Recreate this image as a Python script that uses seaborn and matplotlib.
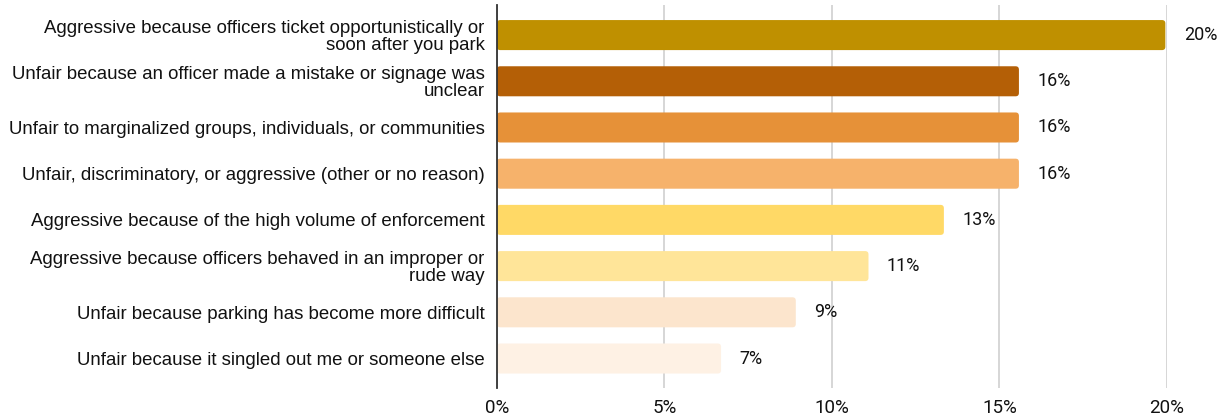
import matplotlib
matplotlib.use("Agg")
import matplotlib.pyplot as plt
from matplotlib.patches import FancyBboxPatch
from matplotlib.ticker import FuncFormatter, MultipleLocator
import seaborn as sns
import pandas as pd

categories = [
    "Aggressive because officers ticket opportunistically or\nsoon after you park",
    "Unfair because an officer made a mistake or signage was\nunclear",
    "Unfair to marginalized groups, individuals, or communities",
    "Unfair, discriminatory, or aggressive (other or no reason)",
    "Aggressive because of the high volume of enforcement",
    "Aggressive because officers behaved in an improper or\nrude way",
    "Unfair because parking has become more difficult",
    "Unfair because it singled out me or someone else",
]
shares = [19.95, 15.58, 15.58, 15.58, 13.34, 11.09, 8.92, 6.69]
bar_colors = ["#BF9000", "#B45F06", "#E69138", "#F6B26B",
              "#FFD966", "#FFE599", "#FCE5CD", "#FEF1E4"]

df = pd.DataFrame({"reason": categories, "share": shares})

sns.set_theme(style="white")
plt.rcParams["font.family"] = ["Liberation Sans", "DejaVu Sans"]

fig = plt.figure(figsize=(12.3, 4.2), dpi=100)
ax = fig.add_axes([0.404, 0.076, 0.5448, 0.912])

sns.barplot(data=df, x="share", y="reason", hue="reason", order=categories,
            hue_order=categories, palette=bar_colors, legend=False,
            orient="h", width=0.65, saturation=1, ax=ax, zorder=3)

ax.set_xlim(0, 20)
ax.set_ylim(7.64, -0.65)

# swap the square bars for slightly rounded ones
for p in list(ax.patches):
    x, y = p.get_x(), p.get_y()
    w, h = p.get_width(), p.get_height()
    fc = p.get_facecolor()
    p.remove()
    ax.add_patch(FancyBboxPatch((x, y), w, h,
                                boxstyle="round,pad=0,rounding_size=0.1",
                                mutation_aspect=0.72, facecolor=fc,
                                edgecolor="none", zorder=3))

num_font = ["Roboto", "DejaVu Sans"]
for i, v in enumerate(shares):
    ax.text(v + 0.55, i, f"{round(v)}%", va="center", ha="left",
            fontsize=13, color="#111111", family=num_font)

ax.xaxis.set_major_locator(MultipleLocator(5))
ax.xaxis.set_major_formatter(FuncFormatter(lambda v, _: f"{v:.0f}%"))
ax.grid(axis="x", color="#d0d0d0", linewidth=1.2, zorder=0)
ax.grid(axis="y", visible=False)

ax.set_xlabel("")
ax.set_ylabel("")
ax.tick_params(axis="y", length=0, pad=9, labelsize=13.4, labelcolor="#111111")
ax.tick_params(axis="x", length=0, pad=8, labelsize=13.5, labelcolor="#111111")
for t in ax.get_yticklabels():
    t.set_linespacing(1.0)
for t in ax.get_xticklabels():
    t.set_family(num_font)

for s in ["top", "right", "bottom"]:
    ax.spines[s].set_visible(False)
ax.spines["left"].set_color("#333333")
ax.spines["left"].set_linewidth(1.3)
ax.spines["left"].set_zorder(4)

fig.savefig("out.png", dpi=100, facecolor="white")
